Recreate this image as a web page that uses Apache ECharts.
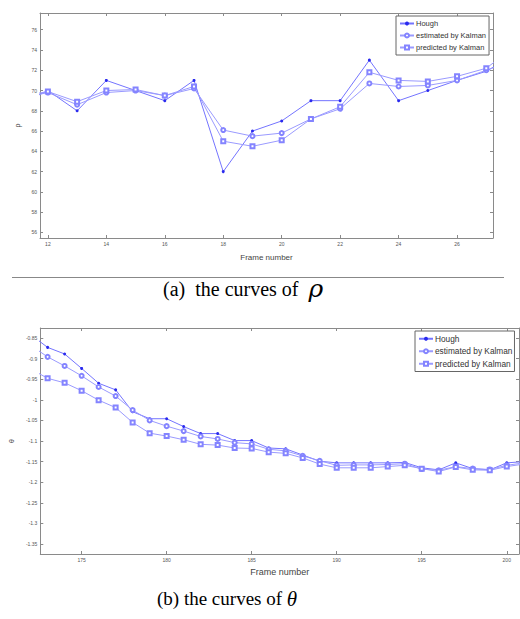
<!DOCTYPE html>
<html>
<head>
<meta charset="utf-8">
<script src="https://cdn.jsdelivr.net/npm/echarts@6/dist/echarts.min.js"></script>
<style>
  html, body { margin: 0; padding: 0; background: #fff; }
  #main { width: 520px; height: 619px; }
</style>
</head>
<body>
<div id="main"></div>
<script>
// (a) rho curves
const rhoFrames = [11, 12, 13, 14, 15, 16, 17, 18, 19, 20, 21, 22, 23, 24, 25, 26, 27, 28];
const rhoHough = [68.6, 70.0, 68.0, 71.0, 70.0, 69.0, 71.0, 62.0, 66.0, 67.0, 69.0, 69.0, 73.0, 69.0, 70.0, 71.0, 71.9, 73.6];
const rhoEstimated = [69.2, 69.8, 68.6, 69.8, 70.0, 69.5, 70.2, 66.1, 65.5, 65.8, 67.2, 68.2, 70.7, 70.4, 70.5, 71.0, 72.0, 73.0];
const rhoPredicted = [69.4, 69.9, 68.9, 70.0, 70.1, 69.5, 70.4, 65.0, 64.5, 65.1, 67.2, 68.4, 71.8, 71.0, 70.9, 71.4, 72.2, 74.4];
const rhoXTicks = [12, 14, 16, 18, 20, 22, 24, 26];
const rhoYTicks = [56, 58, 60, 62, 64, 66, 68, 70, 72, 74, 76];

// (b) theta curves
const thetaFrames = [172, 173, 174, 175, 176, 177, 178, 179, 180, 181, 182, 183, 184, 185, 186,
  187, 188, 189, 190, 191, 192, 193, 194, 195, 196, 197, 198, 199, 200, 201];
const thetaHough = [-0.842, -0.873, -0.889, -0.924, -0.96, -0.976, -1.029, -1.046, -1.046, -1.065,
  -1.082, -1.082, -1.099, -1.099, -1.117, -1.119, -1.134, -1.149, -1.153, -1.153,
  -1.153, -1.153, -1.152, -1.165, -1.17, -1.153, -1.167, -1.17, -1.153, -1.15];
const thetaEstimated = [-0.868, -0.896, -0.918, -0.942, -0.969, -0.991, -1.025, -1.05, -1.064, -1.076,
  -1.089, -1.095, -1.104, -1.107, -1.12, -1.124, -1.136, -1.148, -1.159, -1.158,
  -1.158, -1.157, -1.155, -1.168, -1.171, -1.162, -1.167, -1.169, -1.159, -1.153];
const thetaPredicted = [-0.925, -0.948, -0.959, -0.978, -1.001, -1.019, -1.055, -1.081, -1.088, -1.097,
  -1.108, -1.11, -1.117, -1.118, -1.127, -1.13, -1.141, -1.156, -1.165, -1.165,
  -1.165, -1.162, -1.159, -1.167, -1.174, -1.163, -1.17, -1.171, -1.162, -1.156];
const thetaXTicks = [175, 180, 185, 190, 195, 200];
const thetaYTicks = [-1.35, -1.3, -1.25, -1.2, -1.15, -1.1, -1.05, -1, -0.95, -0.9, -0.85];

const seriesNames = ['Hough', 'estimated by Kalman', 'predicted by Kalman'];

const pairs = (xs, ys) => xs.map((x, i) => [x, ys[i]]);

const frameColor = '#8a8a8a';
const labelColor = '#555';

function axis(gridIndex, min, max, ticks, opts) {
  return Object.assign({
    gridIndex: gridIndex,
    type: 'value',
    min: min,
    max: max,
    splitLine: { show: false },
    axisLine: { show: true, onZero: false, lineStyle: { color: frameColor, width: 1 } },
    axisTick: { show: true, inside: true, length: 3, customValues: ticks, lineStyle: { color: frameColor } },
    axisLabel: { show: false, customValues: ticks }
  }, opts || {});
}

function label(ticks) {
  return { show: true, customValues: ticks, margin: 3, fontSize: 5, color: labelColor, fontFamily: 'Liberation Sans' };
}

function lineSeries(name, xi, yi, data, kind) {
  const base = {
    name: name,
    type: 'line',
    xAxisIndex: xi,
    yAxisIndex: yi,
    data: data,
    animation: false,
    clip: true,
    lineStyle: { width: 1, color: kind === 0 ? '#7474ff' : '#9a9aff' }
  };
  if (kind === 0) {
    base.symbol = 'circle';
    base.symbolSize = 3;
    base.itemStyle = { color: '#2a2aee', borderWidth: 0 };
  } else if (kind === 1) {
    base.symbol = 'emptyCircle';
    base.symbolSize = 4;
    base.itemStyle = { color: '#8484ff', borderWidth: 1 };
  } else {
    base.symbol = 'emptyRect';
    base.symbolSize = 4;
    base.itemStyle = { color: '#8484ff', borderWidth: 1 };
  }
  return base;
}

const chart = echarts.init(document.getElementById('main'), null, { renderer: 'svg' });

const legendBase = {
  orient: 'vertical',
  backgroundColor: '#fff',
  borderColor: '#666',
  borderWidth: 1,
  itemWidth: 14,
  itemHeight: 5,
  selectedMode: false,
  textStyle: { color: '#333', fontFamily: 'Liberation Sans', padding: [0, 0, 0, -3] },
  data: seriesNames
};

chart.setOption({
  backgroundColor: '#fff',
  animation: false,
  grid: [
    { left: 40, top: 13, width: 453, height: 225 },
    { left: 23, top: 328, width: 496, height: 226 }
  ],
  legend: [
    Object.assign({}, legendBase, {
      left: 396, top: 16, padding: [3, 3, 3, 3], itemGap: 3,
      textStyle: Object.assign({}, legendBase.textStyle, { fontSize: 7.5, lineHeight: 9 })
    }),
    Object.assign({}, legendBase, {
      left: 415, top: 331, padding: [3, 2, 3, 3], itemGap: 3,
      textStyle: Object.assign({}, legendBase.textStyle, { fontSize: 8.3, lineHeight: 9.5 })
    })
  ],
  xAxis: [
    axis(0, 11.73, 27.23, rhoXTicks, {
      position: 'bottom', axisLabel: label(rhoXTicks),
      name: 'Frame number', nameLocation: 'middle', nameGap: 15,
      nameTextStyle: { fontSize: 8, color: '#444', fontFamily: 'Liberation Sans' }
    }),
    axis(0, 11.73, 27.23, rhoXTicks, { position: 'top' }),
    axis(1, 172.57, 200.72, thetaXTicks, {
      position: 'bottom', axisLabel: label(thetaXTicks),
      name: 'Frame number', nameLocation: 'middle', nameGap: 13,
      nameTextStyle: { fontSize: 9, color: '#444', fontFamily: 'Liberation Sans' }
    }),
    axis(1, 172.57, 200.72, thetaXTicks, { position: 'top' })
  ],
  yAxis: [
    axis(0, 55.45, 77.65, rhoYTicks, {
      position: 'left', axisLabel: label(rhoYTicks),
      name: 'ρ', nameLocation: 'middle', nameGap: 12,
      nameTextStyle: { fontSize: 7, color: '#444' }
    }),
    axis(0, 55.45, 77.65, rhoYTicks, { position: 'right' }),
    axis(1, -1.374, -0.826, thetaYTicks, {
      position: 'left', axisLabel: label(thetaYTicks),
      name: 'θ', nameLocation: 'middle', nameGap: 17,
      nameTextStyle: { fontSize: 7, color: '#444' }
    }),
    axis(1, -1.374, -0.826, thetaYTicks, { position: 'right' })
  ],
  graphic: [
    {
      type: 'line', silent: true,
      shape: { x1: 12, y1: 277.5, x2: 504, y2: 277.5 },
      style: { stroke: '#888', lineWidth: 1 }
    },
    {
      type: 'text', left: 163, top: 276, silent: true,
      style: {
        text: '(a)  the curves of  {r|ρ}',
        fontFamily: 'Liberation Serif', fontSize: 20, fill: '#000',
        rich: { r: { fontFamily: 'DejaVu Serif', fontStyle: 'italic', fontSize: 25, fill: '#000' } }
      }
    },
    {
      type: 'text', left: 157, top: 588, silent: true,
      style: {
        text: '(b) the curves of {t|θ}',
        fontFamily: 'Liberation Serif', fontSize: 19, fill: '#000',
        rich: { t: { fontFamily: 'Liberation Serif', fontStyle: 'italic', fontSize: 21, fill: '#000' } }
      }
    }
  ],
  series: [
    lineSeries(seriesNames[0], 0, 0, pairs(rhoFrames, rhoHough), 0),
    lineSeries(seriesNames[1], 0, 0, pairs(rhoFrames, rhoEstimated), 1),
    lineSeries(seriesNames[2], 0, 0, pairs(rhoFrames, rhoPredicted), 2),
    lineSeries(seriesNames[0], 2, 2, pairs(thetaFrames, thetaHough), 0),
    lineSeries(seriesNames[1], 2, 2, pairs(thetaFrames, thetaEstimated), 1),
    lineSeries(seriesNames[2], 2, 2, pairs(thetaFrames, thetaPredicted), 2)
  ]
});
</script>
</body>
</html>
